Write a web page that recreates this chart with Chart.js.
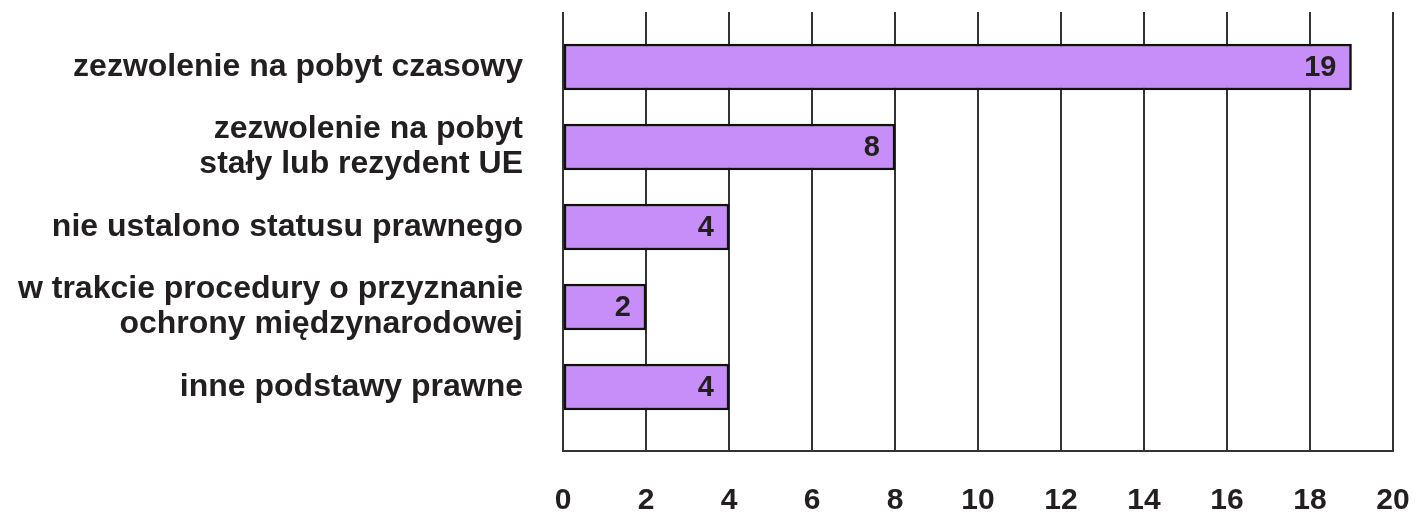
<!DOCTYPE html>
<html>
<head>
<meta charset="utf-8">
<script src="https://cdn.jsdelivr.net/npm/chart.js@4/dist/chart.umd.min.js"></script>
<style>
  html, body { margin: 0; padding: 0; background: #fff; }
  #wrap { width: 1416px; height: 520px; }
</style>
</head>
<body>
<div id="wrap"><canvas id="myChart" width="1416" height="520"></canvas></div>
<script>
const categories = [
  "zezwolenie na pobyt czasowy",
  ["zezwolenie na pobyt", "stały lub rezydent UE"],
  "nie ustalono statusu prawnego",
  ["w trakcie procedury o przyznanie", "ochrony międzynarodowej"],
  "inne podstawy prawne"
];
const counts = [19, 8, 4, 2, 4];
const xTicks = [0, 2, 4, 6, 8, 10, 12, 14, 16, 18, 20];

const ink = "#231f20";
const family = "'Liberation Sans', Arial, sans-serif";

// numbers written inside the end of each bar
const valueLabels = {
  id: 'valueLabels',
  afterDatasetsDraw(chart) {
    const ctx = chart.ctx;
    const meta = chart.getDatasetMeta(0);
    ctx.save();
    ctx.font = `bold 29px ${family}`;
    ctx.fillStyle = ink;
    ctx.textAlign = 'right';
    ctx.textBaseline = 'middle';
    meta.data.forEach((bar, i) => {
      ctx.fillText(String(counts[i]), bar.x - 15, bar.y + 1);
    });
    ctx.restore();
  }
};

// keep tick label overflow from shrinking the plot area
function noOverflow(scale) {
  scale.paddingLeft = 0;
  scale.paddingRight = 0;
  scale.paddingTop = 0;
  scale.paddingBottom = 0;
}

document.addEventListener('DOMContentLoaded', () => {
  const ctx = document.getElementById('myChart').getContext('2d');

  new Chart(ctx, {
    type: 'bar',
    data: {
      datasets: [{
        data: counts.map((v, i) => ({ x: v, y: i })),
        backgroundColor: "#c78ef9",
        borderColor: "#111111",
        borderWidth: 2.5,
        borderSkipped: false,
        barThickness: 46
      }]
    },
    options: {
      indexAxis: 'y',
      responsive: false,
      animation: false,
      layout: { padding: { top: 12, right: 23, left: 0, bottom: 0 } },
      scales: {
        x: {
          type: 'linear',
          min: 0,
          max: 20,
          afterBuildTicks: (scale) => { scale.ticks = xTicks.map(v => ({ value: v })); },
          afterFit: (scale) => { scale.height = 69; noOverflow(scale); },
          ticks: {
            color: ink,
            font: { family: family, weight: "bold", size: 30 },
            padding: 32,
            maxRotation: 0
          },
          grid: {
            color: "#333333",
            lineWidth: 2,
            drawTicks: false
          },
          border: { display: true, color: "#333333", width: 2 }
        },
        y: {
          type: 'linear',
          offset: false,
          reverse: true,
          min: -0.6875,
          max: 4.8,
          afterBuildTicks: (scale) => { scale.ticks = categories.map((c, i) => ({ value: i })); },
          afterFit: (scale) => { scale.width = 563; noOverflow(scale); },
          ticks: {
            color: ink,
            font: { family: family, weight: "bold", size: 32, lineHeight: 1.1 },
            padding: 40,
            callback: (v) => categories[v]
          },
          grid: { display: false, drawTicks: false, offset: false },
          border: { display: false }
        }
      },
      plugins: {
        legend: { display: false },
        tooltip: { enabled: false }
      }
    },
    plugins: [valueLabels]
  });
});
</script>
</body>
</html>
